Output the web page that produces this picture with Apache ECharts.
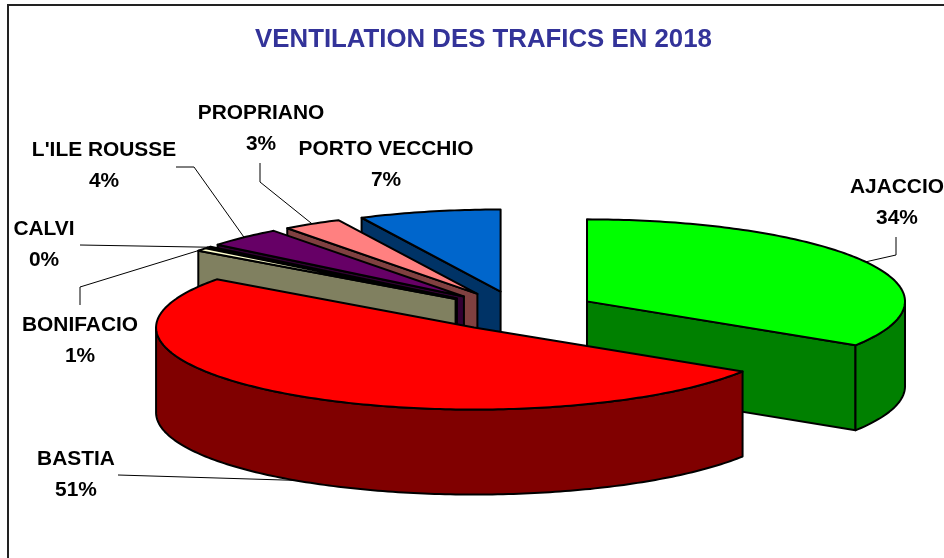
<!DOCTYPE html>
<html><head><meta charset="utf-8">
<style>html,body{margin:0;padding:0;background:#fff;overflow:hidden}#c{width:944px;height:558px}</style>
<script src="https://cdn.jsdelivr.net/npm/echarts@6/dist/echarts.min.js"></script>
</head><body><div id="c"></div>
<script>
// Data
var ports = ['AJACCIO','BASTIA','BONIFACIO','CALVI',"L'ILE ROUSSE",'PROPRIANO','PORTO VECCHIO'];
var shares = [34, 51, 0.6, 0.3, 3.9, 3, 7.2];

// Styles
var topColors  = ['#00FF00','#FF0000','#FFFFCC','#CCFFFF','#660066','#FF8080','#0066CC'];
var wallColors = ['#008000','#800000','#808060','#668080','#330033','#804040','#003366'];
var paintRank  = [5,6,4,3,2,1,0];

// Pie projection
var CX=518.2, CY=311, RX=318, RY=82, DEPTH=85, EXPL_X=78.5, EXPL_Y=20;
// Label layout: centre of the two-line label, and leader path from label to slice rim
var labelAt = [[897,203],[76,475],[80,341],[44,245],[104,166],[261,129],[386,165]];
var leaderAt = [[[896,237],[896,255]],[[118,475]],[[80,305],[80,287]],[[80,245]],[[176,167],[194,167]],[[260,163],[260,182]],null];

var total = shares.reduce(function(a,b){return a+b;},0);
function rim(c,t,dy){return [c[0]+RX*Math.sin(t), c[1]-RY*Math.cos(t)+(dy||0)];}
function arc(c,a,b,dy){
  var n=Math.max(2,Math.ceil(Math.abs(b-a)*60)),p=[];
  for(var i=0;i<=n;i++)p.push(rim(c,a+(b-a)*i/n,dy));
  return p;
}
function poly(points,fill,z){
  return {type:'polygon',z2:z,shape:{points:points},
    style:{fill:fill,stroke:'#000',lineWidth:2,lineJoin:'round'}};
}
var starts=[],acc=0;
shares.forEach(function(v){starts.push(acc);acc+=v;});

function renderItem(params,api){
  var i=params.dataIndex, v=api.value(0);
  var a=starts[i]/total*2*Math.PI, b=(starts[i]+v)/total*2*Math.PI, m=(a+b)/2;
  var c=[CX+EXPL_X*Math.sin(m), CY-EXPL_Y*Math.cos(m)];
  var z=paintRank[i]*10, kids=[];
  var A=rim(c,a), B=rim(c,b);
  // cut faces, only those turned towards the viewer
  if(Math.sin(a)<-1e-6)
    kids.push(poly([c,A,[A[0],A[1]+DEPTH],[c[0],c[1]+DEPTH]],wallColors[i],z));
  if(Math.sin(b)>1e-6)
    kids.push(poly([c,B,[B[0],B[1]+DEPTH],[c[0],c[1]+DEPTH]],wallColors[i],z+1));
  // outer wall, front half only
  var lo=Math.max(a,Math.PI/2), hi=Math.min(b,1.5*Math.PI);
  if(hi>lo){
    kids.push(poly(arc(c,lo,hi).concat(arc(c,hi,lo,DEPTH)),wallColors[i],z+2));
  }
  // top
  kids.push(poly([c].concat(arc(c,a,b)),topColors[i],z+3));
  // leader
  if(leaderAt[i]){
    var end=rim(c,m,Math.cos(m)<0?DEPTH:0);
    kids.push({type:'polyline',z2:200,shape:{points:leaderAt[i].concat([end])},
      style:{fill:null,stroke:'#000',lineWidth:1}});
  }
  // label
  kids.push({type:'text',z2:210,x:labelAt[i][0],y:labelAt[i][1],
    style:{text:ports[i]+'\n'+Math.round(v/total*100)+'%',align:'center',verticalAlign:'middle',
      font:'bold 20.9px "Liberation Sans",Arial,sans-serif',lineHeight:31,fill:'#000'}});
  return {type:'group',children:kids};
}
var chart=echarts.init(document.getElementById('c'),null,{renderer:'canvas'});
chart.setOption({
  animation:false,backgroundColor:'#fff',
  title:{text:'VENTILATION DES TRAFICS EN 2018',left:478.5,top:22,textAlign:'center',
    textStyle:{color:'#333399',fontFamily:'"Liberation Sans",Arial,sans-serif',fontWeight:'bold',fontSize:25.8}},
  graphic:[{type:'rect',silent:true,z:-1,shape:{x:8,y:5,width:1000,height:1000},
    style:{fill:'#fff',stroke:'#222',lineWidth:2}}],
  series:[{type:'custom',coordinateSystem:'none',silent:true,clip:false,
    data:shares.map(function(v,i){return {name:ports[i],value:[v]};}),
    renderItem:renderItem}]
});
</script></body></html>
